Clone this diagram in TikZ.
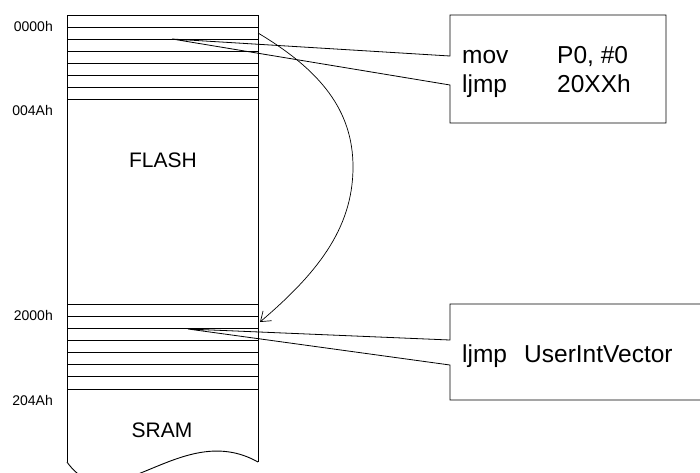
\documentclass[tikz,border=0pt]{standalone}
\usepackage{fontspec}
\setmainfont{Liberation Sans}
\usetikzlibrary{arrows.meta}
\begin{document}
\begin{tikzpicture}[x=1pt,y=-1pt,
  memline/.style={line width=0.9pt},
  callout/.style={line width=0.8pt, line join=miter},
  addr/.style={inner sep=0pt, anchor=base east, font=\fontsize{14}{16}\selectfont},
  region/.style={inner sep=0pt, anchor=base, font=\fontsize{21}{24}\selectfont},
  code/.style={inner sep=0pt, anchor=base west, font=\fontsize{24.5}{28}\selectfont}]
\useasboundingbox (0,0) rectangle (700,472);
\clip (0,0) rectangle (700,472);
% memory column
\coordinate (colTL) at (67,15);
\coordinate (colTR) at (258,15);
\coordinate (colBL) at (67,462);
\coordinate (colBR) at (258,462);
\draw[memline] (colBL) -- (colTL) -- (colTR) -- (colBR);
\draw[memline] (colBL) .. controls (112,525) and (180,418) .. (colBR);
\foreach \y in {27,39,51,63,75,87,99}
  \draw[memline] (67,\y) -- (258,\y);
\foreach \y in {304,316,328,340,352,364,376,389}
  \draw[memline] (67,\y) -- (258,\y);
% address labels
\node[addr] (a0) at (53,31) {0000h};
\node[addr] (a1) at (53,115) {004Ah};
\node[addr] (a2) at (53,320) {2000h};
\node[addr] (a3) at (53,405) {204Ah};
\node[region] (flash) at (163,167) {FLASH};
\node[region] (sram) at (162,437) {SRAM};
% top callout
\coordinate (tipA) at (172,39);
\coordinate (boxA1) at (450,56);
\coordinate (boxA2) at (450,85);
\draw[callout] (boxA1) -- (450,15) -- (666,15) -- (666,123) -- (450,123) -- (boxA2) -- (tipA) -- cycle;
\node[code] (mov) at (462,63) {mov};
\node[code] (movarg) at (557,63) {P0, \#0};
\node[code] (ljmpA) at (462,92) {ljmp};
\node[code] (ljmpAarg) at (557,92) {20XXh};
% bottom callout
\coordinate (tipB) at (188,329);
\coordinate (boxB1) at (450,340);
\coordinate (boxB2) at (450,365);
\draw[callout] (boxB1) -- (450,304) -- (712,304) -- (712,400) -- (450,400) -- (boxB2) -- (tipB) -- cycle;
\node[code] (ljmpB) at (462,362) {ljmp};
\node[code] (uiv) at (524,362) {UserIntVector};
% jump arrow
\coordinate (jstart) at (258,33);
\coordinate (jend) at (260,322);
\draw[line width=0.7pt, -{Straight Barb[length=9pt,width=13pt]}]
  (jstart) .. controls (320,70) and (353,110) .. (353,167)
  .. controls (353,230) and (315,275) .. (jend);
\end{tikzpicture}
\end{document}
